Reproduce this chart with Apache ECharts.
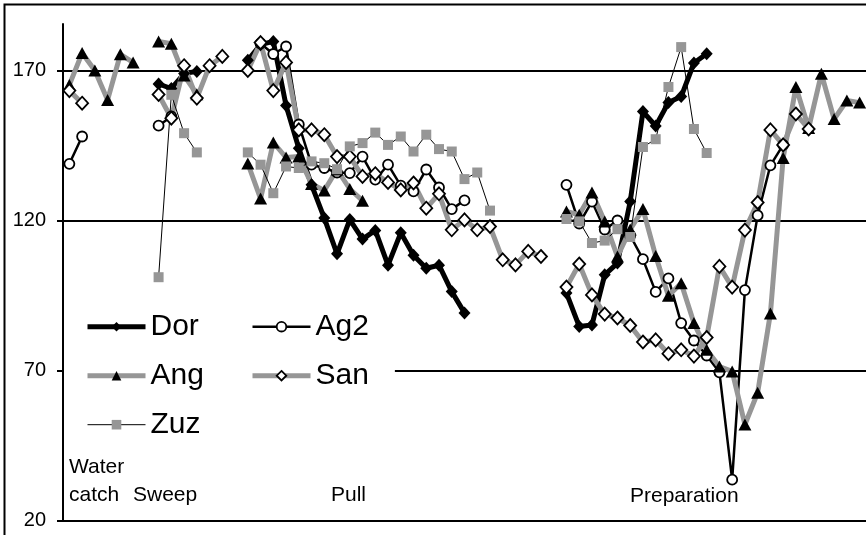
<!DOCTYPE html>
<html>
<head>
<meta charset="utf-8">
<script src="https://cdn.jsdelivr.net/npm/echarts@6/dist/echarts.min.js"></script>
<style>
  html, body { margin: 0; padding: 0; background: #fff; }
  #chart { width: 866px; height: 535px; }
</style>
</head>
<body>
<div id="chart"></div>
<script>
// Sample frames along the stroke cycle (category axis)
const frames = [
  '1','2','3','4','5','6','7','8','9','10','11','12','13','14','15','16','17','18','19','20',
  '21','22','23','24','25','26','27','28','29','30','31','32','33','34','35','36','37','38','39','40',
  '41','42','43','44','45','46','47','48','49','50','51','52','53','54','55','56','57','58','59','60',
  '61','62','63'
];

// Y axis tick values
const yTicks = [20, 70, 120, 170];

// Stroke phase captions
const phaseNames = ['Water', 'catch', 'Sweep', 'Pull', 'Preparation'];

// Joint angle per frame for each swimmer (null = not recorded)
const dor = [
  null, null, null, null, null, null, null, 165.5, 164.0, 169.0,
  169.7, null, null, null, 173.4, 178.6, 179.7, 158.3, 144.1, 131.9,
  120.8, 108.9, 120.3, 113.8, 116.7, 105.1, 115.9, 108.4, 104.1, 105.1,
  96.3, 89.2, null, null, null, null, null, null, null, 95.8,
  84.7, 85.2, 101.9, 105.8, 126.3, 156.3, 151.5, 159.3, 161.3, 172.5,
  175.6, null, null, null, null, null, null, null, null, null,
  null, null, null
];

const ag2 = [
  138.9, 148.0, null, null, null, null, null, 151.6, 154.7, null,
  null, null, null, null, null, 179.0, 175.5, 178.0, 152.0, 138.6,
  137.5, 136.0, 135.8, 141.3, 133.6, 138.6, 131.6, 129.7, 137.0, 131.0,
  123.8, 126.7, null, null, null, null, null, null, null, 131.9,
  119.0, 126.3, 117.0, 120.0, 115.0, 107.1, 96.2, 100.7, 85.8, 80.0,
  75.0, 69.4, 33.6, 96.8, 121.7, 138.4, 145.2, null, null, null,
  null, null, null
];

const ang = [
  165.2, 175.8, 170.0, 160.2, 175.4, 172.7, null, 179.7, 178.9, 168.3,
  162.1, null, null, null, 139.0, 127.3, 146.0, 141.0, 141.3, 132.2,
  130.0, 137.0, 130.5, 126.6, null, null, null, null, null, null,
  null, null, null, null, null, null, null, null, null, 123.0,
  121.9, 129.3, 119.7, 108.0, 117.0, 123.8, 108.2, 94.9, 99.1, 85.8,
  76.9, 71.3, 69.7, 52.0, 62.6, 89.0, 140.8, 164.5, 150.8, 168.9,
  153.8, 160.0, 159.3
];

const san = [
  163.3, 159.1, null, null, null, null, null, 162.0, 154.1, 171.6,
  160.8, 171.6, 174.7, null, 170.0, 179.3, 163.3, 172.7, 150.2, 150.2,
  148.6, 141.3, 141.3, 134.7, 135.6, 132.7, 130.2, 132.5, 124.1, 128.9,
  116.9, 120.2, 116.9, 118.0, 106.9, 105.2, 109.7, 108.0, null, 97.8,
  105.5, 95.2, 88.8, 87.5, 85.0, 79.5, 80.2, 75.6, 76.9, 74.8,
  81.0, 104.7, 97.8, 116.8, 126.0, 150.2, 145.2, 155.5, 150.5, null,
  null, null, null
];

const zuz = [
  null, null, null, null, null, null, null, 101.1, 161.9, 149.1,
  142.7, null, null, null, 142.7, 138.6, 129.1, 138.0, 137.5, 139.7,
  139.1, 137.1, 144.7, 145.8, 149.3, 145.2, 148.0, 143.0, 148.6, 143.8,
  143.0, 133.8, 136.0, 123.3, null, null, null, null, null, 120.5,
  119.7, 112.5, 113.3, 117.1, 114.5, 144.5, 147.1, 164.5, 177.8, 150.5,
  142.5, null, null, null, null, null, null, null, null, null,
  null, null, null
];

const GREY = '#969696';
const FONT = '"Liberation Sans", Arial, Helvetica, sans-serif';

const chart = echarts.init(document.getElementById('chart'), null, { renderer: 'canvas' });

function lineSeries(name, data, lineColor, lineWidth, symbol, symbolSize, itemStyle) {
  return {
    name: name,
    type: 'line',
    data: data,
    connectNulls: false,
    showAllSymbol: true,
    symbol: symbol,
    symbolSize: symbolSize,
    lineStyle: { color: lineColor, width: lineWidth },
    itemStyle: itemStyle,
    emphasis: { disabled: true },
    animation: false
  };
}

const option = {
  animation: false,
  backgroundColor: '#fff',
  grid: { left: 63, top: 24, width: 808.3, height: 496.5, containLabel: false },
  xAxis: {
    type: 'category',
    data: frames,
    boundaryGap: true,
    axisLine: { show: true, lineStyle: { color: '#000', width: 2 } },
    axisTick: { show: false },
    axisLabel: { show: false },
    splitLine: { show: false }
  },
  yAxis: {
    type: 'value',
    min: 20,
    max: 185.5,
    interval: 50,
    axisLine: { show: true, lineStyle: { color: '#000', width: 2 } },
    axisTick: { show: true, length: 6, inside: false, lineStyle: { color: '#000', width: 2 }, customValues: yTicks },
    axisLabel: {
      show: true, margin: 17, color: '#000', fontSize: 20, fontFamily: FONT,
      customValues: yTicks
    },
    splitLine: { show: true, lineStyle: { color: '#000', width: 2 } }
  },
  legend: [
    {
      data: ['Dor', 'Ang', 'Zuz'],
      orient: 'vertical',
      left: 64,
      top: 296,
      padding: [15.7, 191, 8, 21],
      backgroundColor: '#fff',
      itemWidth: 58,
      itemHeight: 12,
      itemGap: 19,
      selectedMode: false,
      textStyle: { fontSize: 30, color: '#000', fontFamily: FONT },
      lineStyle: { width: 'inherit' },
      itemStyle: { borderWidth: 'inherit' }
    },
    {
      data: ['Ag2', 'San'],
      orient: 'vertical',
      left: 250,
      top: 311.7,
      padding: 0,
      itemWidth: 58,
      itemHeight: 12,
      itemGap: 19,
      selectedMode: false,
      textStyle: { fontSize: 30, color: '#000', fontFamily: FONT },
      lineStyle: { width: 'inherit' },
      itemStyle: { borderWidth: 'inherit' }
    }
  ],
  graphic: [
    {
      type: 'rect', silent: true, z: 100,
      shape: { x: 4.5, y: 4.5, width: 900, height: 600 },
      style: { fill: 'none', stroke: '#000', lineWidth: 2 }
    },
    { type: 'text', x: 69, y: 467, style: { text: phaseNames[0], font: '21px ' + FONT, fill: '#000', verticalAlign: 'middle' } },
    { type: 'text', x: 69, y: 495, style: { text: phaseNames[1], font: '21px ' + FONT, fill: '#000', verticalAlign: 'middle' } },
    { type: 'text', x: 133, y: 495, style: { text: phaseNames[2], font: '21px ' + FONT, fill: '#000', verticalAlign: 'middle' } },
    { type: 'text', x: 331, y: 495, style: { text: phaseNames[3], font: '21px ' + FONT, fill: '#000', verticalAlign: 'middle' } },
    { type: 'text', x: 630, y: 496, style: { text: phaseNames[4], font: '21px ' + FONT, fill: '#000', verticalAlign: 'middle' } }
  ],
  series: [
    lineSeries('Dor', dor, '#000', 5, 'diamond', [12, 13], { color: '#000', borderWidth: 0 }),
    lineSeries('Ag2', ag2, '#000', 2.5, 'circle', 10, { color: '#fff', borderColor: '#000', borderWidth: 1.8 }),
    lineSeries('Ang', ang, GREY, 5, 'triangle', [13, 12], { color: '#000', borderWidth: 0 }),
    lineSeries('San', san, GREY, 5, 'diamond', [12, 13], { color: '#fff', borderColor: '#000', borderWidth: 1.8 }),
    lineSeries('Zuz', zuz, '#000', 1, 'rect', 10, { color: GREY, borderWidth: 0 })
  ]
};

chart.setOption(option);
</script>
</body>
</html>
